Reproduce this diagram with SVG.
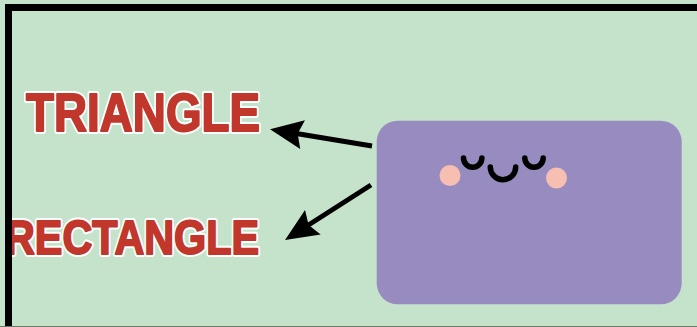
<svg xmlns="http://www.w3.org/2000/svg" width="697" height="327" viewBox="0 0 697 327">
<style>
.lbl{font-family:"Liberation Sans",Arial,sans-serif;font-weight:bold;stroke-linejoin:round}
.halo{fill:#ffffff;stroke:#ffffff;stroke-width:6}
.ink{fill:#c1372b;stroke:#c1372b;stroke-width:2}
.conn{stroke:#000;stroke-width:5;fill:none}
.feat{stroke:#000;stroke-width:5.5;fill:none;stroke-linecap:round}
.cheek{fill:#f6bfb1}
</style>
<defs>
<marker id="ah" markerUnits="userSpaceOnUse" markerWidth="40" markerHeight="34" viewBox="-10 -17 40 34" refX="0" refY="0" orient="auto" overflow="visible">
<path d="M25,0 L-8,-14.5 L-3,0 L-8,14.5 Z" fill="#000"/>
</marker>
</defs>
<rect width="697" height="327" fill="#c5e2cb"/>
<g id="label-triangle" class="lbl" font-size="54.5">
<text class="halo" x="26" y="131" textLength="234" lengthAdjust="spacingAndGlyphs">TRIANGLE</text>
<text class="ink" x="26" y="131" textLength="234" lengthAdjust="spacingAndGlyphs">TRIANGLE</text>
</g>
<g id="label-rectangle" class="lbl" font-size="49">
<text class="halo" x="5" y="253.5" textLength="254" lengthAdjust="spacingAndGlyphs">RECTANGLE</text>
<text class="ink" x="5" y="253.5" textLength="254" lengthAdjust="spacingAndGlyphs">RECTANGLE</text>
</g>
<g id="frame">
<rect x="5" y="4" width="692" height="7" fill="#000"/>
<rect x="5" y="4" width="7" height="323" fill="#000"/>
<rect x="0" y="326" width="697" height="1" fill="#6b7a6e"/>
</g>
<g id="shape-node">
<rect x="376.7" y="120.7" width="305" height="183.6" rx="21" fill="#978bc0"/>
<circle class="cheek" cx="450" cy="175.5" r="10.5"/>
<circle class="cheek" cx="556.5" cy="178" r="10.5"/>
<path class="feat" d="M463.5,158 A9.2,9.2 0 0 0 481.9,158"/>
<path class="feat" d="M490.3,167 A12.7,12.7 0 0 0 515.7,167"/>
<path class="feat" d="M524.8,158 A9.2,9.2 0 0 0 543.2,158"/>
</g>
<g id="connectors">
<line class="conn" x1="372" y1="146" x2="294.7" y2="133.3" marker-end="url(#ah)"/>
<line class="conn" x1="371" y1="185" x2="306.1" y2="226.5" marker-end="url(#ah)"/>
</g>
</svg>
